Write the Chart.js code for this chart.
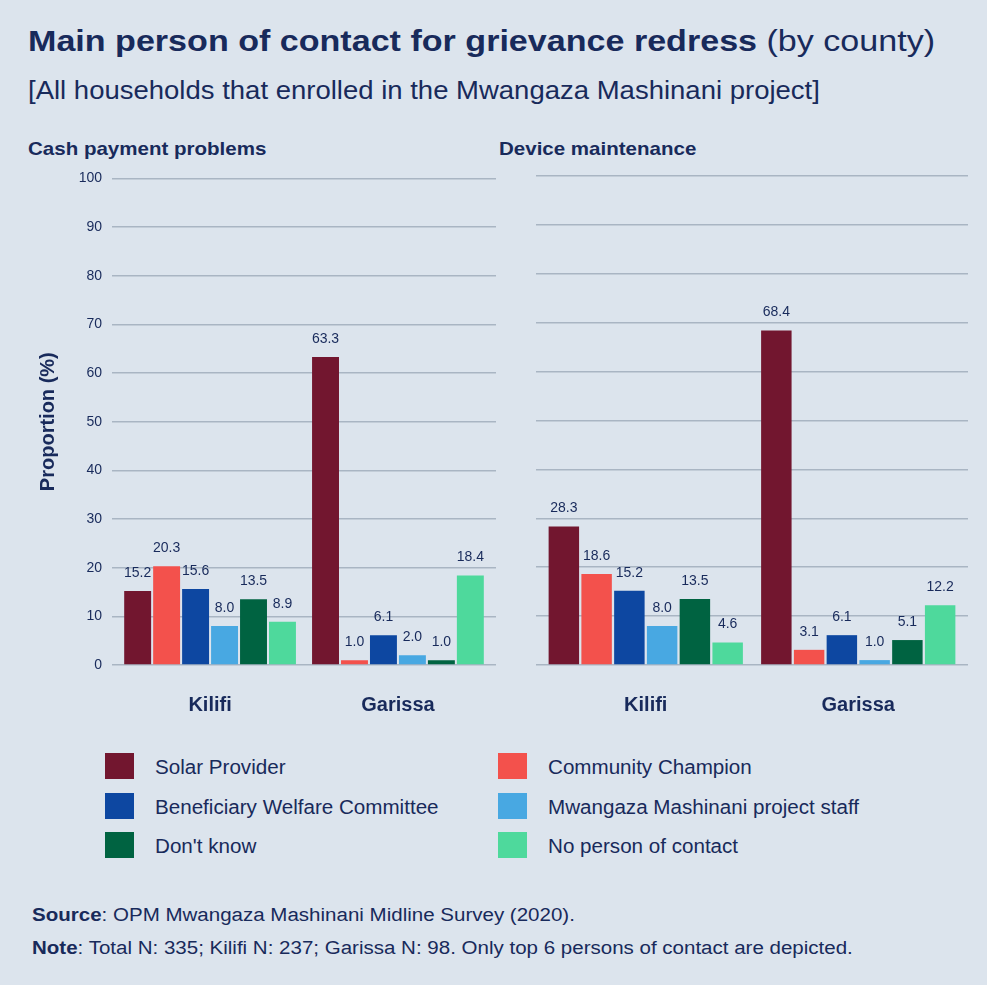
<!DOCTYPE html>
<html>
<head>
<meta charset="utf-8">
<script src="https://cdn.jsdelivr.net/npm/chart.js@4"></script>
<style>
  html, body { margin:0; padding:0; }
  body { width:987px; height:985px; background:#dce4ed; position:relative; overflow:hidden;
         font-family:"Liberation Sans", Arial, Helvetica, sans-serif; color:#182a5b; }
  .abs { position:absolute; white-space:nowrap; line-height:1; transform-origin:left top; }
  #title { left:28px; top:27px; font-size:29px; font-weight:bold; transform:scaleX(1.175); }
  #title span { font-weight:normal; }
  #subtitle { left:28px; top:78px; font-size:25px; transform:scaleX(1.10); }
  .panel { top:139px; font-size:19px; font-weight:bold; transform:scaleX(1.08); }
  canvas { position:absolute; }
  .sw { position:absolute; width:29px; height:26px; }
  .lt { position:absolute; font-size:20px; line-height:1; white-space:nowrap; transform-origin:left top; transform:scaleX(1.03); }
  .foot { font-size:18px; transform:scaleX(1.14); }
</style>
</head>
<body>
<div id="title" class="abs">Main person of contact for grievance redress <span>(by county)</span></div>
<div id="subtitle" class="abs">[All households that enrolled in the Mwangaza Mashinani project]</div>
<div class="abs panel" style="left:28px">Cash payment problems</div>
<div class="abs panel" style="left:499px">Device maintenance</div>
<canvas id="c1" width="480" height="580" style="left:20px;top:160px"></canvas>
<canvas id="c2" width="475" height="580" style="left:500px;top:160px"></canvas>
<div id="legend"></div>
<div class="abs foot" style="left:32px;top:906px"><b>Source</b>: OPM Mwangaza Mashinani Midline Survey (2020).</div>
<div class="abs foot" style="left:32px;top:939px"><b>Note</b>: Total N: 335; Kilifi N: 237; Garissa N: 98. Only top 6 persons of contact are depicted.</div>
<script>
const categories = ['Kilifi', 'Garissa'];
const seriesNames = ['Solar Provider', 'Community Champion', 'Beneficiary Welfare Committee',
                     'Mwangaza Mashinani project staff', "Don't know", 'No person of contact'];
const seriesColors = ['#72162f', '#f3514c', '#0d47a1', '#48a8e2', '#006341', '#4ed99c'];
const yTicks = [0, 10, 20, 30, 40, 50, 60, 70, 80, 90, 100];

// Cash payment problems [Kilifi, Garissa]
const cashSolar     = [15.2, 63.3];
const cashChampion  = [20.3, 1.0];
const cashWelfare   = [15.6, 6.1];
const cashStaff     = [8.0, 2.0];
const cashDontKnow  = [13.5, 1.0];
const cashNoContact = [8.9, 18.4];

// Device maintenance [Kilifi, Garissa]
const devSolar     = [28.3, 68.4];
const devChampion  = [18.6, 3.1];
const devWelfare   = [15.2, 6.1];
const devStaff     = [8.0, 1.0];
const devDontKnow  = [13.5, 5.1];
const devNoContact = [4.6, 12.2];

const NAVY = '#182a5b';
const GRID = '#a9b5c3';
const FAMILY = '"Liberation Sans", Arial, sans-serif';

const valueLabels = {
  id: 'valueLabels',
  afterDatasetsDraw(chart) {
    const ctx = chart.ctx;
    ctx.save();
    ctx.font = '14px ' + FAMILY;
    ctx.fillStyle = NAVY;
    ctx.textAlign = 'center';
    ctx.textBaseline = 'middle';
    chart.data.datasets.forEach((ds, i) => {
      const meta = chart.getDatasetMeta(i);
      meta.data.forEach((el, j) => {
        ctx.fillText(ds.data[j].y.toFixed(1), el.x, el.y - 18);
      });
    });
    ctx.restore();
  }
};

function makeChart(id, seriesData, showY, yWidth, padRight, expand) {
  new Chart(document.getElementById(id), {
    type: 'bar',
    data: {
      datasets: seriesData.map((d, i) => ({
        label: seriesNames[i],
        data: d.map((v, k) => ({ x: k, y: v })),
        backgroundColor: seriesColors[i],
        borderWidth: 0, categoryPercentage: 0.925, barPercentage: 0.93
      }))
    },
    options: {
      responsive: false, animation: false,
      layout: { padding: { top: 16, right: padRight, left: 0, bottom: 0 } },
      plugins: { legend: { display: false }, tooltip: { enabled: false } },
      scales: {
        x: {
          type: 'linear', offset: false,
          min: -expand, max: categories.length - 1 + expand,
          afterBuildTicks(s) { s.ticks = categories.map((c, k) => ({ value: k })); },
          grid: { display: false, drawTicks: false },
          border: { display: false },
          ticks: { color: NAVY, font: { size: 20, weight: 'bold', family: FAMILY }, padding: 28,
                   callback: (v) => categories[v] },
          afterFit(s) { s.height = 75; }
        },
        y: {
          min: 0, max: 100,
          afterBuildTicks(s) { s.ticks = yTicks.map(v => ({ value: v })); },
          grid: { color: GRID, lineWidth: 1.5, drawTicks: false },
          border: { display: false },
          ticks: { display: showY, color: NAVY, font: { size: 14, family: FAMILY }, padding: 10 },
          title: { display: showY, text: 'Proportion (%)', color: NAVY,
                   font: { size: 20, weight: 'bold', family: FAMILY },
                   padding: { top: 16, bottom: 0 } },
          afterFit(s) { s.width = yWidth; }
        }
      }
    },
    plugins: [valueLabels]
  });
}

makeChart('c1', [cashSolar, cashChampion, cashWelfare, cashStaff, cashDontKnow, cashNoContact], true, 92, 4, 0.522);
makeChart('c2', [devSolar, devChampion, devWelfare, devStaff, devDontKnow, devNoContact], false, 36, 7, 0.5165);

// Legend
const leg = document.getElementById('legend');
const colX = [105, 498];
const rowY = [753, 792.5, 832];
seriesNames.forEach((name, i) => {
  const col = i % 2, row = Math.floor(i / 2);
  const sw = document.createElement('div');
  sw.className = 'sw';
  sw.style.left = colX[col] + 'px';
  sw.style.top = rowY[row] + 'px';
  sw.style.background = seriesColors[i];
  leg.appendChild(sw);
  const t = document.createElement('div');
  t.className = 'lt';
  t.style.left = (colX[col] + 50) + 'px';
  t.style.top = (rowY[row] + 4) + 'px';
  t.textContent = name;
  leg.appendChild(t);
});
</script>
</body>
</html>
